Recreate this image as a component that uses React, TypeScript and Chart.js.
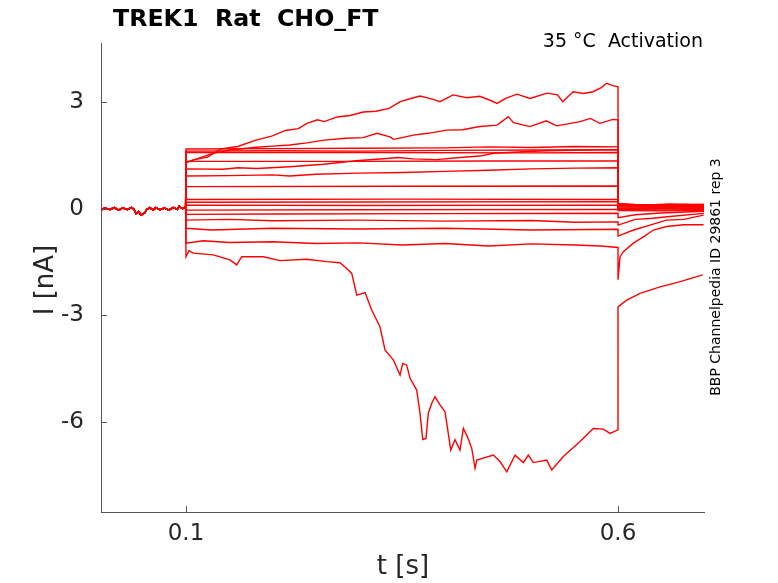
import React from "react"
import { Chart, registerables } from "chart.js"

Chart.register(...registerables)

type Pt = [number, number]

// shared holding current before the step (t < 0.1 s)
const baseline: Pt[] = [
  [0.002, -0.03], [0.006, 0.02], [0.012, -0.02], [0.017, 0.03], [0.022, -0.04], [0.027, 0.02],
  [0.032, -0.02], [0.037, 0.03], [0.04, -0.02], [0.042, -0.14], [0.045, -0.08], [0.048, -0.18],
  [0.052, -0.12], [0.054, -0.03], [0.058, 0.03], [0.062, -0.04], [0.065, 0.03], [0.07, -0.03],
  [0.075, 0.02], [0.08, -0.04], [0.085, 0.03], [0.09, -0.02], [0.092, 0.07], [0.096, 0.0], [0.0995, 0.05],
]

// current during the step, one list per sweep (top to bottom)
const step01: Pt[] = [
  [0.1, 1.3], [0.11, 1.38], [0.125, 1.45], [0.14, 1.68], [0.16, 1.75], [0.18, 1.92],
  [0.2, 2.05], [0.215, 2.2], [0.23, 2.25], [0.24, 2.4], [0.252, 2.5], [0.26, 2.45],
  [0.275, 2.58], [0.29, 2.62], [0.305, 2.72], [0.32, 2.74], [0.335, 2.82], [0.348, 3.01],
  [0.36, 3.1], [0.371, 3.17], [0.385, 3.08], [0.394, 3.01], [0.409, 3.2], [0.425, 3.12],
  [0.44, 3.16], [0.452, 3.05], [0.46, 2.96], [0.47, 3.1], [0.483, 3.22], [0.498, 3.1],
  [0.518, 3.25], [0.53, 3.2], [0.536, 3.01], [0.548, 3.29], [0.56, 3.24], [0.571, 3.29],
  [0.58, 3.4], [0.587, 3.53], [0.593, 3.47], [0.6, 3.43],
]
const step02: Pt[] = [
  [0.1, 1.3], [0.115, 1.42], [0.13, 1.55], [0.15, 1.65], [0.17, 1.7], [0.182, 1.73],
  [0.2, 1.76], [0.22, 1.79], [0.24, 1.85], [0.26, 1.93], [0.285, 1.98], [0.305, 2.0],
  [0.321, 2.12], [0.336, 2.02], [0.34, 1.95], [0.35, 2.0], [0.363, 2.07], [0.38, 2.12],
  [0.402, 2.21], [0.42, 2.22], [0.44, 2.31], [0.46, 2.35], [0.473, 2.59], [0.479, 2.42],
  [0.498, 2.31], [0.517, 2.47], [0.529, 2.33], [0.545, 2.4], [0.556, 2.45], [0.568, 2.54],
  [0.579, 2.4], [0.594, 2.51], [0.6, 2.5],
]
const step03: Pt[] = [[0.1, 1.68], [0.2, 1.69], [0.3, 1.7], [0.4, 1.71], [0.45, 1.74], [0.5, 1.72], [0.55, 1.75], [0.6, 1.74]]
const step04: Pt[] = [[0.1, 1.62], [0.2, 1.63], [0.3, 1.62], [0.4, 1.64], [0.5, 1.65], [0.6, 1.66]]
const step05: Pt[] = [[0.1, 1.58], [0.3, 1.58], [0.5, 1.57], [0.6, 1.58]]
const step06: Pt[] = [
  [0.1, 1.12], [0.143, 1.11], [0.16, 1.15], [0.182, 1.13], [0.22, 1.18], [0.259, 1.25],
  [0.297, 1.35], [0.336, 1.42], [0.345, 1.44], [0.363, 1.4], [0.39, 1.38], [0.417, 1.44],
  [0.44, 1.48], [0.456, 1.56], [0.49, 1.6], [0.517, 1.63], [0.55, 1.64], [0.6, 1.66],
]
const step07: Pt[] = [[0.1, 1.33], [0.3, 1.33], [0.45, 1.34], [0.6, 1.34]]
const step08: Pt[] = [
  [0.1, 0.92], [0.15, 0.93], [0.2, 0.95], [0.22, 0.92], [0.25, 0.97], [0.3, 1.0], [0.35, 1.02],
  [0.4, 1.05], [0.45, 1.08], [0.5, 1.12], [0.55, 1.14], [0.6, 1.15],
]
const step09: Pt[] = [[0.1, 0.62], [0.35, 0.63], [0.6, 0.64]]
const step10: Pt[] = [[0.1, 0.26], [0.35, 0.27], [0.6, 0.26]]
const step11: Pt[] = [[0.1, 0.18], [0.3, 0.19], [0.6, 0.2]]
const step12: Pt[] = [[0.1, 0.1], [0.3, 0.09], [0.6, 0.1]]
const step13: Pt[] = [[0.1, -0.04], [0.3, -0.03], [0.6, -0.02]]
const step14: Pt[] = [[0.1, -0.16], [0.2, -0.15], [0.4, -0.14], [0.6, -0.13]]
const step15: Pt[] = [
  [0.1, -0.32], [0.15, -0.3], [0.2, -0.34], [0.3, -0.32], [0.4, -0.35], [0.5, -0.33], [0.55, -0.38], [0.6, -0.37],
]
const step16: Pt[] = [
  [0.1, -0.55], [0.13, -0.6], [0.2, -0.55], [0.3, -0.57], [0.4, -0.55], [0.5, -0.6], [0.6, -0.58],
]
const step17: Pt[] = [
  [0.1, -0.97], [0.12, -0.9], [0.15, -0.95], [0.2, -0.93], [0.25, -0.98], [0.3, -0.96],
  [0.35, -1.02], [0.4, -0.98], [0.45, -1.05], [0.5, -0.99], [0.55, -1.02], [0.58, -1.05], [0.6, -1.09],
]
const step18: Pt[] = [
  [0.1, -1.35], [0.1035, -1.18], [0.1084, -1.25], [0.1316, -1.3], [0.1509, -1.44], [0.1587, -1.58],
  [0.1645, -1.35], [0.1895, -1.35], [0.2088, -1.46], [0.2397, -1.42], [0.2628, -1.49], [0.2782, -1.52],
  [0.286, -1.68], [0.2918, -1.82], [0.2976, -2.43], [0.3072, -2.36], [0.3149, -2.85], [0.3245, -3.32],
  [0.3303, -3.97], [0.3399, -4.25], [0.3477, -4.68], [0.3508, -4.35], [0.3554, -4.4], [0.3593, -4.77],
  [0.367, -5.1], [0.3708, -5.75], [0.374, -6.49], [0.3778, -6.46], [0.3804, -5.75], [0.3844, -5.47],
  [0.3882, -5.29], [0.394, -5.52], [0.3998, -5.71], [0.4064, -6.79], [0.4113, -6.5], [0.4171, -6.79],
  [0.421, -6.18], [0.4256, -6.41], [0.4307, -6.74], [0.4345, -7.3], [0.4365, -7.07], [0.4557, -6.93],
  [0.4634, -7.11], [0.4712, -7.4], [0.4808, -6.93], [0.4904, -7.14], [0.4962, -6.93], [0.502, -7.14],
  [0.5175, -7.07], [0.5233, -7.35], [0.5367, -6.97], [0.556, -6.55], [0.5714, -6.18], [0.583, -6.2],
  [0.5907, -6.32], [0.6, -6.22],
]

// tail current after the step (t > 0.6 s)
const tail01: Pt[] = [[0.6, 0.15], [0.62, 0.12], [0.65, 0.1], [0.68, 0.12], [0.7, 0.1]]
const tail02: Pt[] = [[0.6, 0.12], [0.63, 0.1], [0.66, 0.13], [0.7, 0.1]]
const tail03: Pt[] = [[0.6, 0.12], [0.65, 0.11], [0.7, 0.12]]
const tail04: Pt[] = [[0.6, 0.1], [0.65, 0.09], [0.7, 0.08]]
const tail05: Pt[] = [[0.6, 0.08], [0.65, 0.1], [0.7, 0.1]]
const tail06: Pt[] = [[0.6, 0.1], [0.65, 0.11], [0.7, 0.12]]
const tail07: Pt[] = [[0.6, 0.05], [0.65, 0.04], [0.7, 0.06]]
const tail08: Pt[] = [[0.6, 0.05], [0.65, 0.06], [0.7, 0.05]]
const tail09: Pt[] = [[0.6, 0.02], [0.65, 0.01], [0.7, 0.03]]
const tail10: Pt[] = [[0.6, 0.0], [0.65, 0.02], [0.7, 0.02]]
const tail11: Pt[] = [[0.6, -0.02], [0.65, -0.01], [0.7, 0.0]]
const tail12: Pt[] = [[0.6, -0.03], [0.65, -0.04], [0.7, -0.02]]
const tail13: Pt[] = [[0.6, -0.05], [0.65, -0.06], [0.7, -0.05]]
const tail14: Pt[] = [[0.6, -0.25], [0.62, -0.17], [0.65, -0.12], [0.7, -0.07]]
const tail15: Pt[] = [[0.6, -0.46], [0.62, -0.3], [0.64, -0.27], [0.66, -0.22], [0.7, -0.13]]
const tail16: Pt[] = [[0.6, -0.77], [0.618, -0.6], [0.637, -0.46], [0.656, -0.32], [0.676, -0.3], [0.699, -0.18]]
const tail17: Pt[] = [
  [0.6, -2.0], [0.6023, -1.35], [0.6062, -1.21], [0.6177, -0.97], [0.6293, -0.79], [0.641, -0.6],
  [0.6563, -0.5], [0.6756, -0.45], [0.699, -0.45],
]
const tail18: Pt[] = [[0.6, -2.76], [0.61, -2.57], [0.6255, -2.38], [0.6486, -2.2], [0.672, -2.05], [0.698, -1.86]]

const steps = [step01, step02, step03, step04, step05, step06, step07, step08, step09,
  step10, step11, step12, step13, step14, step15, step16, step17, step18]
const tails = [tail01, tail02, tail03, tail04, tail05, tail06, tail07, tail08, tail09,
  tail10, tail11, tail12, tail13, tail14, tail15, tail16, tail17, tail18]

const xTicks = [0.1, 0.6]
const yTicks = [-6, -3, 0, 3]

const FONT = "'DejaVu Sans', sans-serif"
const INK = "#262626"

const decorations = {
  id: "decorations",
  afterDraw(chart: any) {
    const { ctx, chartArea } = chart
    const xs = chart.scales.x
    const ys = chart.scales.y
    ctx.save()
    // inward tick marks
    ctx.strokeStyle = "#555"
    ctx.lineWidth = 1
    ctx.beginPath()
    xTicks.forEach((v) => {
      const px = Math.round(xs.getPixelForValue(v)) + 0.5
      ctx.moveTo(px, chartArea.bottom)
      ctx.lineTo(px, chartArea.bottom - 6)
    })
    yTicks.forEach((v) => {
      const py = Math.round(ys.getPixelForValue(v)) + 0.5
      ctx.moveTo(chartArea.left, py)
      ctx.lineTo(chartArea.left + 6, py)
    })
    ctx.stroke()

    ctx.fillStyle = "#000"
    ctx.font = `bold 23.7px ${FONT}`
    ctx.textAlign = "left"
    ctx.textBaseline = "alphabetic"
    ctx.fillText("TREK1  Rat  CHO_FT", 113, 26)

    ctx.font = `19px ${FONT}`
    ctx.textAlign = "right"
    ctx.fillText("35 °C  Activation", 703, 47)

    ctx.fillStyle = INK
    ctx.font = `26px ${FONT}`
    ctx.textAlign = "center"
    ctx.textBaseline = "middle"
    ctx.fillText("t [s]", 403, 567)

    ctx.save()
    ctx.translate(46, 280)
    ctx.rotate(-Math.PI / 2)
    ctx.fillText("I [nA]", 0, 0)
    ctx.restore()

    ctx.save()
    ctx.fillStyle = "#000"
    ctx.font = `14px ${FONT}`
    ctx.translate(716, 277)
    ctx.rotate(-Math.PI / 2)
    ctx.fillText("BBP Channelpedia ID 29861 rep 3", 0, 0)
    ctx.restore()

    ctx.restore()
  },
}

const CurrentChart = () => {
  const chartRef = React.useRef<HTMLCanvasElement>(null)

  React.useEffect(() => {
    if (chartRef.current == null) {
      return
    }

    const datasets = steps.map((s, i) => ({
      label: `sweep ${i + 1}`,
      data: [...baseline, ...s, ...tails[i]].map(([x, y]) => ({ x, y })),
      borderColor: "#ff0000",
      borderWidth: 1.4,
      pointRadius: 0,
      tension: 0,
      fill: false,
    }))

    const chart = new Chart(chartRef.current, {
      type: "line",
      data: { datasets },
      plugins: [decorations],
      options: {
        animation: false,
        responsive: false,
        devicePixelRatio: 1,
        layout: { padding: { left: 0, top: 43, right: 74, bottom: 0 } },
        plugins: {
          legend: { display: false },
          tooltip: { enabled: false },
          title: { display: false },
        },
        scales: {
          x: {
            type: "linear",
            min: 0.0016,
            max: 0.6995,
            afterFit: (s: any) => { s.height = 71 },
            afterBuildTicks: (s: any) => { s.ticks = xTicks.map((value) => ({ value })) },
            grid: { display: false, drawTicks: false },
            border: { display: true, color: "#555", width: 1 },
            ticks: {
              font: { family: FONT, size: 23 },
              color: INK,
              padding: 8,
              maxRotation: 0,
              callback: (v: any) => String(v),
            },
          },
          y: {
            type: "linear",
            min: -8.53,
            max: 4.66,
            afterFit: (s: any) => { s.width = 101 },
            afterBuildTicks: (s: any) => { s.ticks = yTicks.map((value) => ({ value })) },
            grid: { display: false, drawTicks: false },
            border: { display: true, color: "#555", width: 1 },
            ticks: {
              font: { family: FONT, size: 23 },
              color: INK,
              padding: 17,
              callback: (v: any) => String(v),
            },
          },
        },
      },
    })

    return () => {
      chart.destroy()
    }
  }, [])

  return <canvas ref={chartRef} width={778} height={583} />
}

export default function App() {
  return (
    <div style={{ position: "absolute", left: 0, top: 0, width: 778, height: 583, background: "#fff" }}>
      <CurrentChart />
    </div>
  )
}
